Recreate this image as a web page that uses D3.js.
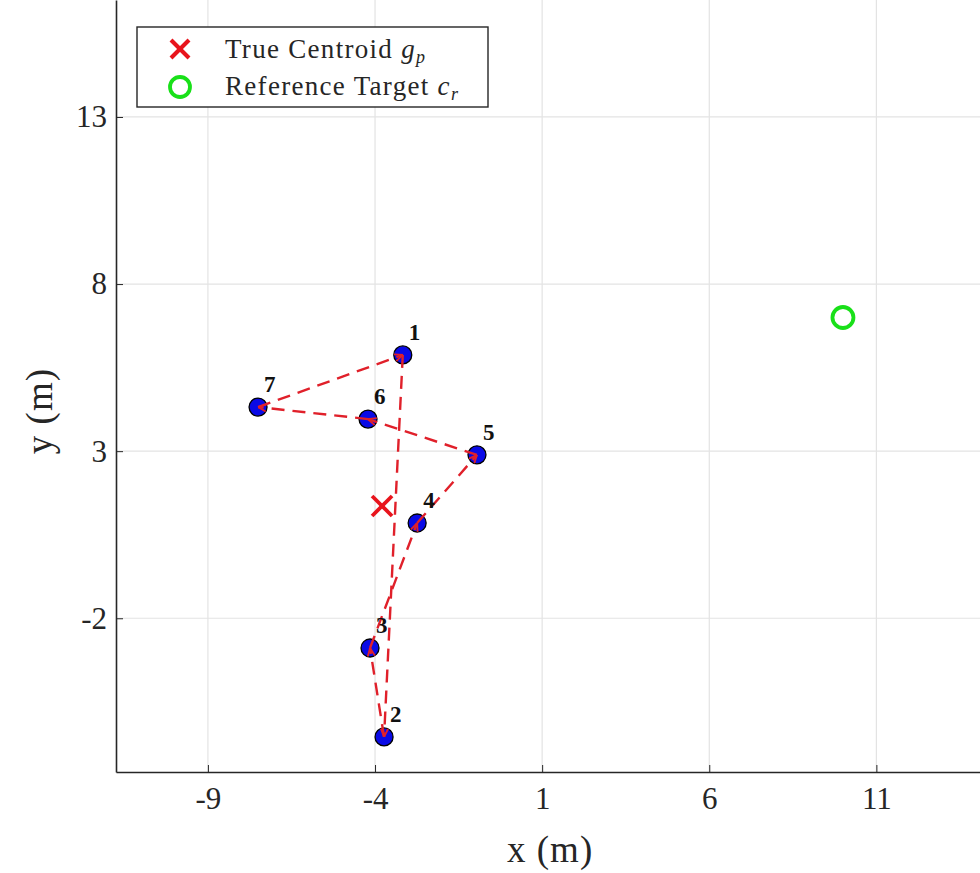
<!DOCTYPE html>
<html>
<head>
<meta charset="utf-8">
<script src="https://cdn.jsdelivr.net/npm/d3@7"></script>
<style>
  body { margin: 0; background: #fff; }
  svg { display: block; font-family: "Liberation Serif", "DejaVu Serif", serif; }
</style>
</head>
<body>
<div id="viz"></div>
<script>
const width = 980, height = 873;

// agent positions (order = path order)
const agentIds = [1, 2, 3, 4, 5, 6, 7];
const agentX = [-3.17, -3.73, -4.15, -2.74, -0.95, -4.21, -7.50];
const agentY = [5.88, -5.55, -2.89, 0.85, 2.89, 3.96, 4.32];

// centroid and target
const centroid = [-3.79, 1.36];
const target = [10, 7];

// ticks
const xTicks = [-9, -4, 1, 6, 11];
const yTicks = [-2, 3, 8, 13];

const svg = d3.select("#viz").append("svg")
  .attr("width", width)
  .attr("height", height);

const x = d3.scaleLinear().domain([-11.75, 14.1]).range([116, 980]);
const y = d3.scaleLinear().domain([-6.6, 16.5]).range([772, 0]);

// grid
svg.append("g").selectAll("line")
  .data(xTicks).enter().append("line")
  .attr("x1", d => x(d)).attr("x2", d => x(d))
  .attr("y1", y.range()[1]).attr("y2", y.range()[0])
  .attr("stroke", "#e3e3e3").attr("stroke-width", 1.2);
svg.append("g").selectAll("line")
  .data(yTicks).enter().append("line")
  .attr("x1", x.range()[0]).attr("x2", x.range()[1])
  .attr("y1", d => y(d)).attr("y2", d => y(d))
  .attr("stroke", "#e3e3e3").attr("stroke-width", 1.2);

// axes (ticks pointing inward), plain hyphen minus like matlab
const fmt = d => String(d);
const xAxis = svg.append("g")
  .attr("transform", `translate(0,${y.range()[0]})`)
  .call(d3.axisBottom(x).tickValues(xTicks).tickFormat(fmt).tickSize(-7).tickPadding(14).tickSizeOuter(0));
const yAxis = svg.append("g")
  .attr("transform", `translate(${x.range()[0]},0)`)
  .call(d3.axisLeft(y).tickValues(yTicks).tickFormat(fmt).tickSize(-7).tickPadding(9).tickSizeOuter(0));

[xAxis, yAxis].forEach(g => {
  g.select(".domain").attr("stroke", "#262626").attr("stroke-width", 1.6);
  g.selectAll(".tick line").attr("stroke", "#262626");
  g.selectAll(".tick text")
    .attr("font-family", "Liberation Serif, serif")
    .attr("font-size", 31)
    .attr("fill", "#262626");
});
xAxis.selectAll(".tick text").attr("dy", "0.75em");

// axis labels
svg.append("text")
  .attr("x", x(1) + 8).attr("y", 862)
  .attr("text-anchor", "middle")
  .attr("font-size", 37).attr("letter-spacing", 1).attr("fill", "#262626")
  .text("x (m)");
svg.append("text")
  .attr("transform", `translate(52,${y(4.2)}) rotate(-90)`)
  .attr("text-anchor", "middle")
  .attr("font-size", 37).attr("letter-spacing", 1).attr("fill", "#262626")
  .text("y (m)");

// agents
const agents = agentIds.map((id, i) => ({ id, x: agentX[i], y: agentY[i] }));

svg.append("g").selectAll("circle")
  .data(agents).enter().append("circle")
  .attr("cx", d => x(d.x)).attr("cy", d => y(d.y))
  .attr("r", 9)
  .attr("fill", "#0a0ae6")
  .attr("stroke", "#000").attr("stroke-width", 1.3);

// arrow marker
svg.append("defs").append("marker")
  .attr("id", "arr")
  .attr("viewBox", "0 0 10 10")
  .attr("refX", 10).attr("refY", 5)
  .attr("markerWidth", 9).attr("markerHeight", 9)
  .attr("markerUnits", "userSpaceOnUse")
  .attr("orient", "auto")
  .append("path")
  .attr("d", "M1,1 L10,5 L1,9")
  .attr("fill", "none")
  .attr("stroke", "#e0202a").attr("stroke-width", 2);

// dashed path between consecutive agents (closed loop)
const links = agents.map((d, i) => [d, agents[(i + 1) % agents.length]]);
svg.append("g").selectAll("line")
  .data(links).enter().append("line")
  .attr("x1", d => x(d[0].x)).attr("y1", d => y(d[0].y))
  .attr("x2", d => x(d[1].x)).attr("y2", d => y(d[1].y))
  .attr("stroke", "#e0202a").attr("stroke-width", 2.4)
  .attr("stroke-dasharray", "13,8")
  .attr("marker-end", "url(#arr)");

// labels
svg.append("g").selectAll("text")
  .data(agents).enter().append("text")
  .attr("x", d => x(d.x) + 6).attr("y", d => y(d.y) - 15)
  .attr("font-size", 23).attr("font-weight", "bold")
  .attr("fill", "#111")
  .text(d => d.id);

// centroid X
function drawCross(g, cx, cy, s, w) {
  g.append("line").attr("x1", cx - s).attr("y1", cy - s).attr("x2", cx + s).attr("y2", cy + s)
    .attr("stroke", "#e8141c").attr("stroke-width", w);
  g.append("line").attr("x1", cx - s).attr("y1", cy + s).attr("x2", cx + s).attr("y2", cy - s)
    .attr("stroke", "#e8141c").attr("stroke-width", w);
}
drawCross(svg.append("g"), x(centroid[0]), y(centroid[1]), 10, 3.8);

// target
svg.append("circle")
  .attr("cx", x(target[0])).attr("cy", y(target[1]))
  .attr("r", 10.5)
  .attr("fill", "none")
  .attr("stroke", "#19e019").attr("stroke-width", 3.8);

// legend
const legend = svg.append("g").attr("transform", "translate(137,27)");
legend.append("rect")
  .attr("width", 351).attr("height", 80)
  .attr("fill", "#fff").attr("stroke", "#262626").attr("stroke-width", 1.4);
drawCross(legend, 43, 22, 9, 4);
legend.append("circle").attr("cx", 43).attr("cy", 60).attr("r", 10)
  .attr("fill", "none").attr("stroke", "#19e019").attr("stroke-width", 3.8);

const t1 = legend.append("text").attr("x", 88).attr("y", 31)
  .attr("font-size", 27).attr("letter-spacing", 1.3).attr("fill", "#262626");
t1.append("tspan").text("True Centroid ");
t1.append("tspan").attr("font-style", "italic").text("g");
t1.append("tspan").attr("font-style", "italic").attr("font-size", 18).attr("dy", 5).text("p");

const t2 = legend.append("text").attr("x", 88).attr("y", 68)
  .attr("font-size", 27).attr("letter-spacing", 1.3).attr("fill", "#262626");
t2.append("tspan").text("Reference Target ");
t2.append("tspan").attr("font-style", "italic").text("c");
t2.append("tspan").attr("font-style", "italic").attr("font-size", 18).attr("dy", 5).text("r");
</script>
</body>
</html>
